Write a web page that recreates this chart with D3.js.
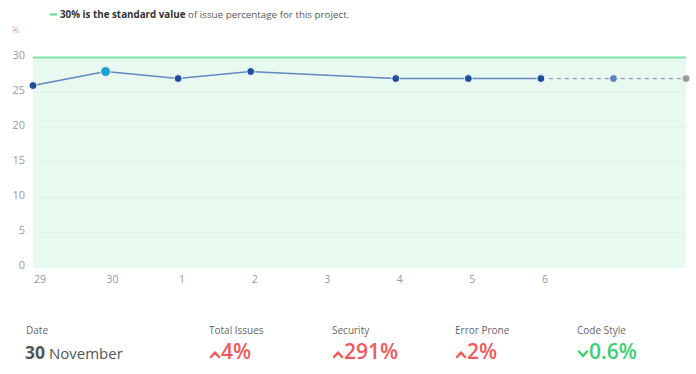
<!DOCTYPE html>
<html><head><meta charset="utf-8">
<script src="https://cdn.jsdelivr.net/npm/d3@7"></script>
<style>
html,body{margin:0;padding:0;background:#fff;}
svg{display:block;font-family:"Open Sans","Noto Sans",sans-serif;}
</style></head>
<body>
<svg id="c" width="696" height="374"></svg>
<script>
// ---- data ----
const dayLabels = ["29","30","1","2","3","4","5","6","",""];
const issueValues = [26,28,27,28,null,27,27,27,27,27]; // % per day; last two are projected
const projectedFrom = 7;           // index where the dashed projection starts
const highlightIndex = 1;          // selected day (30 November)
const standardValue = 30;
const yTicks = [0,5,10,15,20,25,30];
const statLabels = ["Total Issues","Security","Error Prone","Code Style"];
const statValues = ["4%","291%","2%","0.6%"];
const statDirections = ["up","up","up","down"];
const selectedDay = "30", selectedMonth = "November";

// ---- layout ----
const svg = d3.select("#c");
const x = d3.scaleLinear().domain([0, dayLabels.length-1]).range([33, 686]);
const y = d3.scaleLinear().domain([0, 30]).range([268, 57.5]);

// fill area under standard
svg.append("rect").attr("x", x(0)).attr("y", y(standardValue))
  .attr("width", x(dayLabels.length-1)-x(0)).attr("height", y(0)-y(standardValue))
  .attr("fill", "#e8f9ef");

// faint gridlines
svg.append("g").selectAll("line").data(yTicks.filter(t=>t>0 && t<30)).join("line")
  .attr("x1", x(0)).attr("x2", x(dayLabels.length-1))
  .attr("y1", d=>y(d)).attr("y2", d=>y(d))
  .attr("stroke", "#dff4e7").attr("stroke-width", 1);

// standard line
svg.append("line").attr("x1", x(0)).attr("x2", x(dayLabels.length-1))
  .attr("y1", y(standardValue)).attr("y2", y(standardValue))
  .attr("stroke", "#7fe3a3").attr("stroke-width", 2);

// y axis
const yAxis = d3.axisLeft(y).tickValues(yTicks).tickSize(0).tickPadding(0);
const gy = svg.append("g").attr("transform", "translate(25,-3)").call(yAxis);
gy.select(".domain").remove();
gy.selectAll("text").attr("fill", "#9a9a9a").style("font-size", "11px")
  .style("font-family", '"Open Sans",sans-serif');
svg.append("text").attr("x", 12).attr("y", 33).text("%")
  .attr("fill", "#b5b5b5").style("font-size", "9px");

// x axis
const xAxis = d3.axisBottom(x).tickValues(d3.range(dayLabels.length))
  .tickFormat(i=>dayLabels[i]).tickSize(0).tickPadding(0);
const gx = svg.append("g").attr("transform", "translate(0,276)").call(xAxis);
gx.select(".domain").remove();
gx.selectAll("text").attr("fill", "#9a9a9a").attr("text-anchor", "start")
  .attr("dx", 0.5).attr("dy", "0.71em").style("font-size", "10.5px")
  .style("font-family", '"Open Sans",sans-serif');

// line (actual)
const pts = issueValues.map((v,i)=>({i, v})).filter(d=>d.v!==null);
const actual = pts.filter(d=>d.i<=projectedFrom);
const projected = pts.filter(d=>d.i>=projectedFrom);
const line = d3.line().x(d=>x(d.i)).y(d=>y(d.v));
svg.append("path").attr("d", line(actual)).attr("fill", "none")
  .attr("stroke", "#5f87c2").attr("stroke-width", 1.5);
svg.append("path").attr("d", line(projected)).attr("fill", "none")
  .attr("stroke", "#9aa0a8").attr("stroke-width", 1.3).attr("stroke-dasharray", "4,4");

// points
svg.append("g").selectAll("circle").data(pts).join("circle")
  .attr("cx", d=>x(d.i)).attr("cy", d=>y(d.v))
  .attr("r", d=>d.i===highlightIndex ? 5 : 4)
  .attr("fill", d=>{
    if (d.i===highlightIndex) return "#1aa3d6";
    if (d.i===projectedFrom+1) return "#5b83bd";
    if (d.i>projectedFrom+1) return "#9a9a9a";
    return "#1c4f9c";
  })
  .attr("stroke", "#fff").attr("stroke-width", 1);

// legend
svg.append("line").attr("x1", 50).attr("x2", 57).attr("y1", 14.5).attr("y2", 14.5)
  .attr("stroke", "#5bd68a").attr("stroke-width", 2);
const lt = svg.append("text").attr("x", 60).attr("y", 18).style("font-size", "9.8px").attr("fill", "#555");
lt.append("tspan").text("30% is the standard value").style("font-weight", "700").attr("fill", "#333");
lt.append("tspan").text(" of issue percentage for this project.");

// bottom stats
svg.append("text").attr("x", 26).attr("y", 334).text("Date")
  .attr("fill", "#666").style("font-size", "10px");
const dt = svg.append("text").attr("x", 25).attr("y", 359).attr("fill", "#555");
dt.append("tspan").text(selectedDay).style("font-size", "17.5px").style("font-weight", "700");
dt.append("tspan").text(" " + selectedMonth).style("font-size", "15px");

const statX = [209, 332, 455, 577];
statLabels.forEach((lab, k)=>{
  const g = svg.append("g").attr("transform", `translate(${statX[k]},0)`);
  g.append("text").attr("x", 0).attr("y", 334).text(lab)
    .attr("fill", "#666").style("font-size", "10px");
  const col = statDirections[k]==="up" ? "#f25a5a" : "#3ccf73";
  const cp = statDirections[k]==="up" ? "M2,357 L6,352.5 L10,357" : "M2,351.5 L6,356 L10,351.5";
  g.append("path").attr("d", cp).attr("fill", "none").attr("stroke", col)
    .attr("stroke-width", 2.4).attr("stroke-linecap", "round").attr("stroke-linejoin", "round");
  g.append("text").attr("x", 12).attr("y", 359).text(statValues[k])
    .attr("fill", col).style("font-size", "21px").style("font-weight", "600");
});
</script>
</body></html>
